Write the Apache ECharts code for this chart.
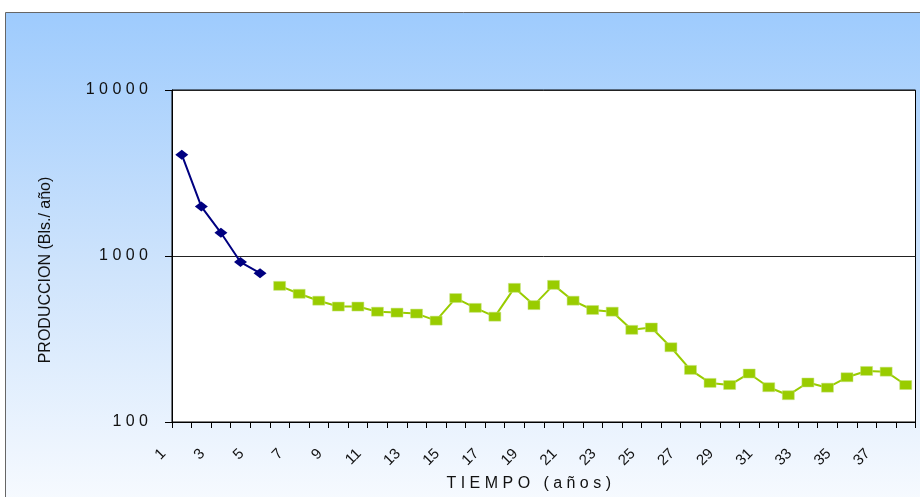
<!DOCTYPE html>
<html>
<head>
<meta charset="utf-8">
<style>html,body{margin:0;padding:0;background:#fff;overflow:hidden;}#c{width:920px;height:497px;}</style>
<script src="https://cdn.jsdelivr.net/npm/echarts@6/dist/echarts.min.js"></script>
</head>
<body>
<div id="c"></div>
<script>
const categories = ['1','2','3','4','5','6','7','8','9','10','11','12','13','14','15','16','17','18','19','20','21','22','23','24','25','26','27','28','29','30','31','32','33','34','35','36','37','38'];
// first period (years 1-5)
const blueValues = [4080, 1985, 1380, 920, 788];
const blueStart = 0;
// second period (years 6-38)
const greenValues = [661, 592, 538, 496, 496, 462, 456, 450, 408, 558, 487, 431, 643, 506, 670, 538, 473, 462, 359, 371, 282, 206, 172, 167, 196, 162, 145, 173, 161, 186, 203, 201, 167];
const greenStart = 5;
const yTicks = ['100', '1000', '10000'];

const blueData = blueValues.map((v, i) => [blueStart + i, v]);
const greenData = greenValues.map((v, i) => [greenStart + i, v]);

const chart = echarts.init(document.getElementById('c'), null, {renderer: 'canvas'});
chart.setOption({
  animation: false,
  graphic: [{
    type: 'rect', z: -100, silent: true,
    shape: {x: 5.5, y: 12.5, width: 940, height: 520},
    style: {
      fill: new echarts.graphic.LinearGradient(0, 0, 0, 1, [
        {offset: 0, color: '#9ecbfd'},
        {offset: 0.5, color: '#cfe4fc'},
        {offset: 1, color: '#fcfdff'}
      ]),
      stroke: '#666', lineWidth: 1
    }
  }],
  grid: {left: 172, width: 743.5, top: 90, height: 334, show: true, backgroundColor: '#fff', borderColor: '#000', borderWidth: 1},
  xAxis: {
    type: 'category', data: categories, boundaryGap: true,
    name: 'T I E M P O   ( a ñ o s )', nameLocation: 'middle', nameGap: 54,
    nameTextStyle: {fontFamily: 'Liberation Sans', fontSize: 16, color: '#111', padding: [0, 30, 0, 0]},
    axisLine: {show: true, lineStyle: {color: '#000', width: 1}},
    axisTick: {show: true, interval: 0, length: 6, lineStyle: {color: '#000'}},
    axisLabel: {interval: 1, rotate: 45, margin: 11, fontFamily: 'Liberation Sans', fontSize: 15, color: '#111', padding: [0, 26, 0, 0]},
    splitLine: {show: false}
  },
  yAxis: {
    type: 'log', logBase: 10, min: 100, max: 10000,
    name: 'PRODUCCION (Bls./ año)', nameLocation: 'middle', nameGap: 118, nameRotate: 90,
    nameTextStyle: {fontFamily: 'Liberation Sans', fontSize: 16, color: '#111', padding: [0, 28, 0, 0]},
    axisLine: {show: true, lineStyle: {color: '#000', width: 1}},
    axisTick: {show: true, length: 7, lineStyle: {color: '#000'}},
    axisLabel: {
      margin: 24, fontFamily: 'Liberation Sans', fontSize: 16, color: '#111',
      formatter: function (v) {
        const s = String(Math.round(v));
        return yTicks.indexOf(s) >= 0 ? s.split('').join(' ') : '';
      }
    },
    splitLine: {show: true, lineStyle: {color: '#222', width: 1}},
    minorTick: {show: false}
  },
  series: [
    {
      type: 'line', data: blueData, symbol: 'diamond', symbolSize: [13, 10],
      lineStyle: {color: '#000080', width: 2}, itemStyle: {color: '#000080'}
    },
    {
      type: 'line', data: greenData, symbol: 'rect', symbolSize: [12, 9],
      lineStyle: {color: '#99cc00', width: 2}, itemStyle: {color: '#99cc00', borderColor: '#c8e680', borderWidth: 0.5}
    }
  ]
});
</script>
</body>
</html>
